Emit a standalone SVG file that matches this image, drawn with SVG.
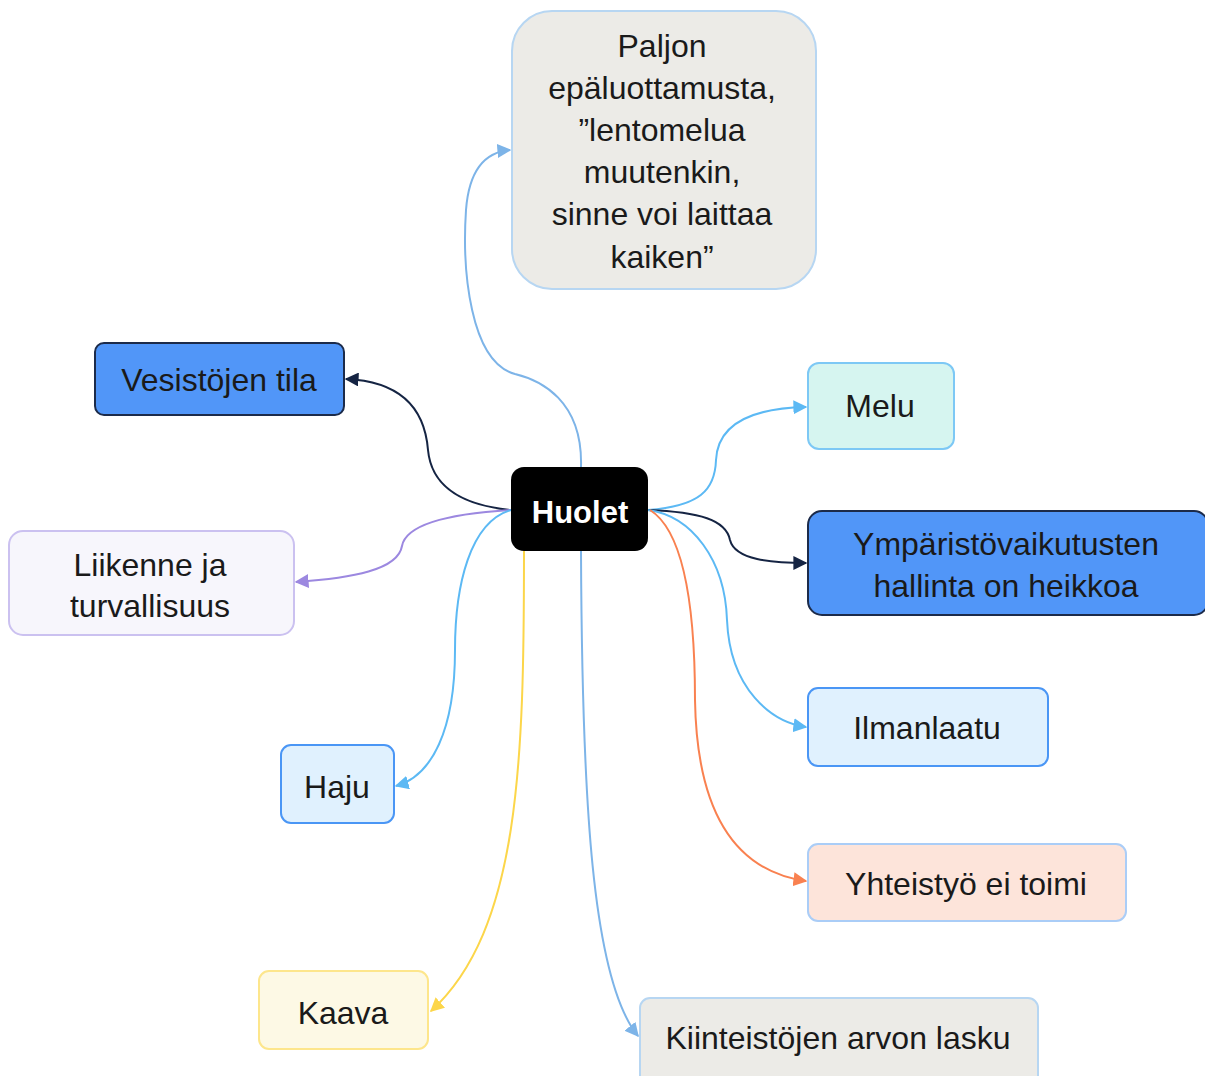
<svg xmlns="http://www.w3.org/2000/svg" width="1205" height="1076" viewBox="0 0 1205 1076">
  <style>
    text { font-family: "Liberation Sans", Arial, sans-serif; font-size: 32px; fill: #1a1a1a; text-anchor: middle; }
    .root-label { fill: #ffffff; font-weight: bold; font-size: 31px; }
    .edge { fill: none; stroke-width: 2; }
    .box { stroke-width: 2; }
  </style>
  <defs>
    <marker id="arr-navy" viewBox="0 0 10 10" refX="9" refY="5" markerWidth="7" markerHeight="7" orient="auto" markerUnits="strokeWidth">
      <path d="M0,0 L10,5 L0,10 z" fill="#152443"/>
    </marker>
    <marker id="arr-sky" viewBox="0 0 10 10" refX="9" refY="5" markerWidth="7" markerHeight="7" orient="auto" markerUnits="strokeWidth">
      <path d="M0,0 L10,5 L0,10 z" fill="#5cb9f4"/>
    </marker>
    <marker id="arr-pale" viewBox="0 0 10 10" refX="9" refY="5" markerWidth="7" markerHeight="7" orient="auto" markerUnits="strokeWidth">
      <path d="M0,0 L10,5 L0,10 z" fill="#7db4e8"/>
    </marker>
    <marker id="arr-purple" viewBox="0 0 10 10" refX="9" refY="5" markerWidth="7" markerHeight="7" orient="auto" markerUnits="strokeWidth">
      <path d="M0,0 L10,5 L0,10 z" fill="#9c88e0"/>
    </marker>
    <marker id="arr-yellow" viewBox="0 0 10 10" refX="9" refY="5" markerWidth="7" markerHeight="7" orient="auto" markerUnits="strokeWidth">
      <path d="M0,0 L10,5 L0,10 z" fill="#fcd64a"/>
    </marker>
    <marker id="arr-orange" viewBox="0 0 10 10" refX="9" refY="5" markerWidth="7" markerHeight="7" orient="auto" markerUnits="strokeWidth">
      <path d="M0,0 L10,5 L0,10 z" fill="#f98150"/>
    </marker>
  </defs>

  <rect width="1205" height="1076" fill="#ffffff"/>

  <!-- connectors from the central topic -->
  <g id="connectors">
    <path class="edge" stroke="#7db4e8" marker-end="url(#arr-pale)" d="M581,467 C583,400 540,380 515,374 C470,362 462,270 466,210 C469,170 485,152 510,150"/>
    <path class="edge" stroke="#152443" marker-end="url(#arr-navy)" d="M511,510 C470,506 432,492 428,450 C424,400 392,381 346,379"/>
    <path class="edge" stroke="#9c88e0" marker-end="url(#arr-purple)" d="M511,510 C445,514 406,525 402,546 C398,570 352,578 296,582"/>
    <path class="edge" stroke="#5cb9f4" marker-end="url(#arr-sky)" d="M511,510 C470,522 455,585 455,650 C455,730 432,776 396,786"/>
    <path class="edge" stroke="#fcd64a" marker-end="url(#arr-yellow)" d="M524,551 C524,760 520,930 431,1011"/>
    <path class="edge" stroke="#7db4e8" marker-end="url(#arr-pale)" d="M581,551 C582,800 592,980 638,1036"/>
    <path class="edge" stroke="#5cb9f4" marker-end="url(#arr-sky)" d="M648,510 C700,506 715,490 716,460 C718,420 760,408 806,407"/>
    <path class="edge" stroke="#152443" marker-end="url(#arr-navy)" d="M648,510 C700,512 726,520 730,540 C735,560 772,563 806,563"/>
    <path class="edge" stroke="#5cb9f4" marker-end="url(#arr-sky)" d="M648,510 C692,516 725,560 727,620 C730,690 772,722 806,727"/>
    <path class="edge" stroke="#f98150" marker-end="url(#arr-orange)" d="M650,510 C682,530 695,600 695,700 C697,822 742,872 806,881"/>
  </g>

  <g id="node-huolet">
    <rect x="511" y="467" width="137" height="84" rx="13" fill="#000000"/>
    <text class="root-label" x="580" y="523">Huolet</text>
  </g>

  <g id="node-paljon">
    <rect class="box" x="512" y="11" width="304" height="278" rx="40" fill="#ecebe7" stroke="#b7d6f2"/>
    <text x="662" y="57">Paljon</text>
    <text x="662" y="99">epäluottamusta,</text>
    <text x="662" y="141">”lentomelua</text>
    <text x="662" y="183">muutenkin,</text>
    <text x="662" y="225">sinne voi laittaa</text>
    <text x="662" y="268">kaiken”</text>
  </g>

  <g id="node-vesistojen">
    <rect class="box" x="95" y="343" width="249" height="72" rx="9" fill="#5196f8" stroke="#1c2b4a"/>
    <text x="219" y="391">Vesistöjen tila</text>
  </g>

  <g id="node-melu">
    <rect class="box" x="808" y="363" width="146" height="86" rx="11" fill="#d6f5f0" stroke="#7dc8f5"/>
    <text x="880" y="417">Melu</text>
  </g>

  <g id="node-ymparisto">
    <rect class="box" x="808" y="511" width="400" height="104" rx="14" fill="#5196f8" stroke="#1c2b4a"/>
    <text x="1006" y="555">Ympäristövaikutusten</text>
    <text x="1006" y="597">hallinta on heikkoa</text>
  </g>

  <g id="node-liikenne">
    <rect class="box" x="9" y="531" width="285" height="104" rx="14" fill="#f7f6fc" stroke="#cbc1f0"/>
    <text x="150" y="576">Liikenne ja</text>
    <text x="150" y="617">turvallisuus</text>
  </g>

  <g id="node-haju">
    <rect class="box" x="281" y="745" width="113" height="78" rx="10" fill="#e0f1fe" stroke="#4a96f5"/>
    <text x="337" y="798">Haju</text>
  </g>

  <g id="node-ilmanlaatu">
    <rect class="box" x="808" y="688" width="240" height="78" rx="10" fill="#e0f1fe" stroke="#4a96f5"/>
    <text x="927" y="739">Ilmanlaatu</text>
  </g>

  <g id="node-yhteistyo">
    <rect class="box" x="808" y="844" width="318" height="77" rx="10" fill="#fde4da" stroke="#aacdf7"/>
    <text x="966" y="895">Yhteistyö ei toimi</text>
  </g>

  <g id="node-kaava">
    <rect class="box" x="259" y="971" width="169" height="78" rx="10" fill="#fdf9e5" stroke="#fde68c"/>
    <text x="343" y="1024">Kaava</text>
  </g>

  <g id="node-kiinteistojen">
    <rect class="box" x="640" y="998" width="398" height="90" rx="10" fill="#ecebe7" stroke="#b7d6f2"/>
    <text x="838" y="1049">Kiinteistöjen arvon lasku</text>
  </g>
</svg>
